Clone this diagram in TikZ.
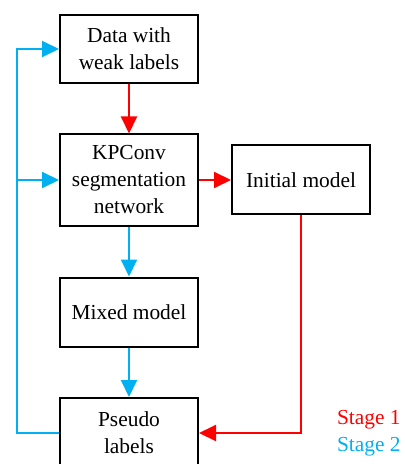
\documentclass[tikz,border=0pt]{standalone}
\usepackage{fontspec}
\setmainfont{Liberation Serif}
\usetikzlibrary{arrows.meta}
\usetikzlibrary{positioning}
\definecolor{sred}{rgb}{1, 0, 0}
\definecolor{sblue}{rgb}{0, 0.69, 0.94}

\tikzset{
  box/.style={draw, line width=1pt, minimum width=69pt, align=center,
    font=\fontsize{10.7}{13.5}\selectfont, inner sep=2pt},
  stone/.style={sred, line width=1pt, -{Triangle[length=8.5pt,width=8pt]}},
  stwo/.style={sblue, line width=1pt, -{Triangle[length=8.5pt,width=8pt]}}
}

\begin{document}
\begin{tikzpicture}[x=0.5pt, y=-0.5pt]
      \useasboundingbox (0,0) rectangle (404,464);

      \node [box, minimum height=34pt] (data) at (129,49) {Data with\\weak labels};
      \node [box, minimum height=45.5pt] (kpconv) at (129,180) {KPConv\\segmentation\\network};
      \node [box, minimum height=34.5pt] (init) at (301,180) {Initial model};
      \node [box, minimum height=34.5pt] (mixed) at (129,312) {Mixed model};
      \node [box, minimum height=35pt] (pseudo) at (129,433) {Pseudo\\labels};

      \coordinate (lbot) at (17,433);
      \coordinate (ltop) at (17,49);
      \coordinate (lmid) at (17,180);

      % stage 1
      \draw [stone] (data) -- (kpconv);
      \draw [stone] (kpconv) -- (init);
      \draw [stone] (init.south) |- (pseudo.east);

      % stage 2
      \draw [stwo] (kpconv) -- (mixed);
      \draw [stwo] (mixed) -- (pseudo);
      \draw [stwo] (pseudo.west) -- (lbot) -- (ltop) -- (data.west);
      \draw [stwo] (lmid) -- (kpconv.west);

      \node [anchor=east, sred, font=\fontsize{10.7}{13.5}\selectfont, inner sep=0pt] (s1) at (401,420) {Stage 1};
      \node [anchor=east, sblue, font=\fontsize{10.7}{13.5}\selectfont, inner sep=0pt] (s2) at (401,447) {Stage 2};
    \end{tikzpicture}
\end{document}
